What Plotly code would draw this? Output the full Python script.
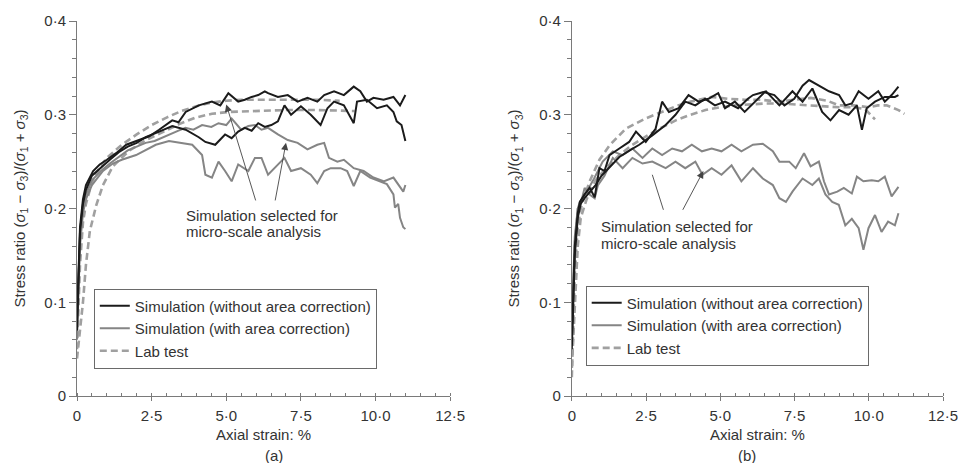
import plotly.graph_objects as go
from plotly.subplots import make_subplots

# ---------------- Panel (a) ----------------
a_black1_x = [0, 0.05, 0.1, 0.2, 0.3, 0.54, 0.76, 1.0, 1.31, 1.65, 2.09, 2.42, 2.75, 3.0, 3.19, 3.4, 3.64,
              4.08, 4.52, 4.8, 5.07, 5.4, 5.62, 5.85, 6.07, 6.29, 6.4, 6.73, 7.06, 7.39, 7.72, 8.05, 8.28,
              8.61, 8.94, 9.27, 9.49, 9.71, 9.93, 10.27, 10.6, 10.82, 11.0]
a_black1_y = [0.08, 0.14, 0.18, 0.21, 0.225, 0.24, 0.247, 0.252, 0.259, 0.268, 0.273, 0.277, 0.284, 0.29,
              0.294, 0.292, 0.303, 0.31, 0.314, 0.31, 0.323, 0.314, 0.316, 0.319, 0.321, 0.325, 0.323,
              0.319, 0.321, 0.314, 0.318, 0.314, 0.321, 0.325, 0.321, 0.33, 0.325, 0.314, 0.318, 0.316,
              0.319, 0.31, 0.321]

a_black2_x = [0, 0.05, 0.1, 0.2, 0.3, 0.5, 0.8, 1.1, 1.4, 1.7, 2.0, 2.3, 2.75, 3.19, 3.64, 3.86, 4.08,
              4.3, 4.63, 4.96, 5.18, 5.4, 5.62, 5.85, 6.07, 6.29, 6.51, 6.73, 6.95, 7.17, 7.5, 7.83, 8.16,
              8.39, 8.61, 8.94, 9.27, 9.38, 9.71, 10.05, 10.38, 10.6, 10.71, 10.87, 11.0]
a_black2_y = [0.07, 0.13, 0.175, 0.205, 0.22, 0.235, 0.244, 0.252, 0.26, 0.266, 0.27, 0.276, 0.282, 0.288,
              0.284, 0.28, 0.276, 0.271, 0.268, 0.279, 0.275, 0.282, 0.286, 0.283, 0.291, 0.287, 0.289,
              0.293, 0.31, 0.3, 0.309, 0.3, 0.289, 0.307, 0.314, 0.31, 0.291, 0.314, 0.316, 0.307, 0.31,
              0.303, 0.293, 0.289, 0.272]

a_gray1_x = [0, 0.05, 0.1, 0.2, 0.3, 0.5, 0.8, 1.1, 1.4, 1.7, 2.0, 2.3, 2.6, 3.08, 3.4, 3.63, 3.9, 4.19,
             4.5, 4.74, 5.0, 5.18, 5.5, 5.74, 5.96, 6.18, 6.4, 6.73, 7.06, 7.39, 7.72, 8.05, 8.28, 8.44,
             8.72, 8.94, 9.27, 9.6, 9.93, 10.27, 10.6, 10.93, 11.0]
a_gray1_y = [0.09, 0.14, 0.17, 0.2, 0.215, 0.23, 0.24, 0.248, 0.255, 0.262, 0.266, 0.27, 0.272, 0.279,
             0.283, 0.286, 0.284, 0.289, 0.287, 0.291, 0.289, 0.296, 0.284, 0.288, 0.289, 0.284, 0.286,
             0.279, 0.273, 0.27, 0.263, 0.268, 0.27, 0.254, 0.25, 0.252, 0.243, 0.24, 0.233, 0.229,
             0.233, 0.218, 0.225]

a_gray2_x = [0, 0.05, 0.1, 0.2, 0.3, 0.5, 0.87, 1.2, 1.5, 1.98, 2.3, 2.64, 3.08, 3.42, 3.86, 4.19, 4.3,
             4.52, 4.74, 4.96, 5.18, 5.4, 5.74, 5.96, 6.18, 6.4, 6.73, 6.95, 7.17, 7.5, 7.83, 8.05, 8.28,
             8.5, 8.83, 9.05, 9.27, 9.49, 9.82, 10.16, 10.38, 10.6, 10.65, 10.76, 10.82, 10.93, 11.0]
a_gray2_y = [0.06, 0.12, 0.16, 0.195, 0.21, 0.225, 0.24, 0.248, 0.252, 0.257, 0.262, 0.268, 0.272, 0.27,
             0.268, 0.257, 0.236, 0.233, 0.25, 0.24, 0.229, 0.247, 0.24, 0.254, 0.254, 0.236, 0.247,
             0.254, 0.24, 0.243, 0.236, 0.227, 0.24, 0.243, 0.243, 0.24, 0.224, 0.24, 0.233, 0.229,
             0.226, 0.215, 0.201, 0.205, 0.19, 0.18, 0.178]

a_lab1_x = [0, 0.05, 0.1, 0.2, 0.3, 0.5, 0.75, 1.0, 1.5, 2.0, 2.5, 3.0, 3.5, 4.0, 4.5, 5.0, 5.5, 6.0,
            7.0, 8.0, 8.8]
a_lab1_y = [0.05, 0.1, 0.14, 0.185, 0.205, 0.228, 0.243, 0.254, 0.268, 0.279, 0.289, 0.297, 0.304,
            0.309, 0.313, 0.315, 0.316, 0.316, 0.316, 0.316, 0.315]

a_lab2_x = [0, 0.1, 0.2, 0.3, 0.43, 0.65, 0.87, 1.2, 1.76, 2.31, 2.86, 3.42, 3.97, 4.52, 5.07, 6.0,
            7.0, 8.0, 9.0, 9.3]
a_lab2_y = [0.04, 0.07, 0.1, 0.14, 0.176, 0.204, 0.225, 0.245, 0.262, 0.273, 0.281, 0.29, 0.297,
            0.301, 0.303, 0.304, 0.305, 0.305, 0.304, 0.304]

# ---------------- Panel (b) ----------------
b_black1_x = [0, 0.05, 0.1, 0.2, 0.27, 0.43, 0.6, 0.77, 0.93, 1.1, 1.27, 1.6, 1.93, 2.16, 2.49, 2.82,
              3.04, 3.27, 3.6, 3.93, 4.27, 4.6, 4.93, 5.16, 5.49, 5.82, 6.16, 6.49, 6.82, 7.16, 7.49,
              7.77, 7.99, 8.32, 8.66, 9.0, 9.21, 9.43, 9.66, 9.99, 10.32, 10.54, 10.77, 11.0]
b_black1_y = [0.06, 0.12, 0.16, 0.195, 0.207, 0.215, 0.222, 0.212, 0.243, 0.24, 0.257, 0.264, 0.271,
              0.282, 0.271, 0.285, 0.314, 0.303, 0.307, 0.321, 0.314, 0.317, 0.323, 0.307, 0.314,
              0.303, 0.314, 0.324, 0.321, 0.31, 0.317, 0.331, 0.337, 0.331, 0.325, 0.321, 0.31,
              0.312, 0.325, 0.317, 0.325, 0.314, 0.321, 0.33]

b_black2_x = [0, 0.05, 0.1, 0.2, 0.3, 0.45, 0.6, 0.8, 1.0, 1.3, 1.6, 1.95, 2.27, 2.71, 3.16, 3.49,
              3.82, 4.16, 4.49, 4.82, 5.16, 5.6, 5.93, 6.1, 6.54, 6.99, 7.43, 7.77, 8.1, 8.43, 8.71,
              9.0, 9.32, 9.6, 9.77, 9.93, 10.21, 10.54, 10.88, 11.0]
b_black2_y = [0.05, 0.11, 0.15, 0.19, 0.205, 0.212, 0.218, 0.225, 0.235, 0.245, 0.255, 0.262, 0.268,
              0.278, 0.289, 0.3, 0.314, 0.31, 0.317, 0.31, 0.314, 0.307, 0.317, 0.321, 0.325, 0.31,
              0.325, 0.314, 0.328, 0.303, 0.294, 0.305, 0.3, 0.31, 0.284, 0.307, 0.314, 0.319,
              0.319, 0.321]

b_gray1_x = [0, 0.05, 0.1, 0.2, 0.27, 0.5, 0.75, 1.04, 1.38, 1.71, 2.04, 2.38, 2.71, 3.04, 3.38,
             3.71, 4.04, 4.38, 4.71, 5.04, 5.38, 5.71, 6.1, 6.43, 6.77, 6.99, 7.32, 7.54, 7.82, 8.04,
             8.32, 8.49, 8.66, 8.94, 9.16, 9.43, 9.6, 9.82, 10.1, 10.32, 10.54, 10.77, 11.0]
b_gray1_y = [0.08, 0.13, 0.17, 0.2, 0.207, 0.218, 0.232, 0.25, 0.261, 0.257, 0.264, 0.254, 0.264,
             0.257, 0.264, 0.261, 0.268, 0.261, 0.264, 0.261, 0.268, 0.261, 0.268, 0.269, 0.261,
             0.25, 0.25, 0.243, 0.259, 0.245, 0.25, 0.229, 0.215, 0.218, 0.222, 0.216, 0.234, 0.229,
             0.23, 0.229, 0.234, 0.213, 0.223]

b_gray2_x = [0, 0.05, 0.1, 0.2, 0.3, 0.43, 0.6, 0.77, 0.88, 1.1, 1.38, 1.71, 2.04, 2.38, 2.71, 3.16,
             3.49, 3.82, 4.16, 4.4, 4.71, 5.04, 5.38, 5.71, 6.1, 6.43, 6.77, 6.99, 7.21, 7.43, 7.77,
             8.1, 8.32, 8.54, 8.77, 8.99, 9.21, 9.43, 9.66, 9.82, 9.99, 10.21, 10.43, 10.65, 10.88, 11.0]
b_gray2_y = [0.07, 0.12, 0.165, 0.2, 0.205, 0.222, 0.215, 0.211, 0.225, 0.235, 0.254, 0.243, 0.254,
             0.248, 0.25, 0.243, 0.25, 0.243, 0.25, 0.236, 0.243, 0.236, 0.246, 0.229, 0.243, 0.232,
             0.225, 0.211, 0.207, 0.218, 0.232, 0.225, 0.232, 0.215, 0.207, 0.204, 0.182, 0.189,
             0.179, 0.156, 0.179, 0.193, 0.175, 0.186, 0.182, 0.195]

b_lab1_x = [0, 0.05, 0.1, 0.2, 0.3, 0.45, 0.6, 0.93, 1.26, 1.81, 2.48, 3.03, 3.58, 4.0, 4.71, 5.27,
            5.82, 6.38, 6.93, 7.49, 8.04, 8.6, 9.0, 9.5, 10.0, 10.3, 10.6, 11.0, 11.2]
b_lab1_y = [0.02, 0.08, 0.13, 0.18, 0.2, 0.215, 0.229, 0.252, 0.267, 0.285, 0.296, 0.303, 0.31,
            0.314, 0.319, 0.317, 0.316, 0.316, 0.314, 0.316, 0.318, 0.315, 0.31, 0.31, 0.308, 0.31,
            0.31, 0.305, 0.301]

b_lab2_x = [0, 0.1, 0.2, 0.3, 0.5, 0.8, 1.2, 1.6, 2.0, 2.5, 3.0, 3.5, 4.0, 4.5, 5.0, 5.5, 6.0, 6.5,
            7.0, 7.5, 8.0, 8.5, 9.0, 9.5, 9.88, 10.21]
b_lab2_y = [0.03, 0.1, 0.16, 0.19, 0.21, 0.23, 0.245, 0.257, 0.267, 0.277, 0.286, 0.294, 0.3, 0.305,
            0.308, 0.31, 0.311, 0.312, 0.312, 0.311, 0.31, 0.309, 0.308, 0.308, 0.306, 0.295]

# ---------------- Axis ticks ----------------
x_ticks = [0, 2.5, 5.0, 7.5, 10.0, 12.5]
x_tick_text = ["0", "2·5", "5·0", "7·5", "10·0", "12·5"]
y_ticks = [0, 0.1, 0.2, 0.3, 0.4]
y_tick_text = ["0", "0·1", "0·2", "0·3", "0·4"]

legend_names = ["Simulation (without area correction)", "Simulation (with area correction)", "Lab test"]

FONT = "Arial, Liberation Sans, sans-serif"
FS = 15
TEXT = "#333333"
AXIS = "#7a7a7a"
BLACK = "#1b1b1b"
GRAY = "#858585"
LAB = "#a0a0a0"

fig = make_subplots(rows=1, cols=2, horizontal_spacing=0.1)


def add_panel(col, legend_id, labs, grays, blacks):
    for i, (x, y) in enumerate(labs):
        fig.add_trace(go.Scatter(x=x, y=y, mode="lines", name=legend_names[2], legend=legend_id,
                                 legendgroup=legend_id + "lab", showlegend=(i == 0), legendrank=3,
                                 line=dict(color=LAB, width=2.6, dash="7px,4px")), row=1, col=col)
    for i, (x, y) in enumerate(grays):
        fig.add_trace(go.Scatter(x=x, y=y, mode="lines", name=legend_names[1], legend=legend_id,
                                 legendgroup=legend_id + "gray", showlegend=(i == 0), legendrank=2,
                                 line=dict(color=GRAY, width=2)), row=1, col=col)
    for i, (x, y) in enumerate(blacks):
        fig.add_trace(go.Scatter(x=x, y=y, mode="lines", name=legend_names[0], legend=legend_id,
                                 legendgroup=legend_id + "black", showlegend=(i == 0), legendrank=1,
                                 line=dict(color=BLACK, width=2)), row=1, col=col)


add_panel(1, "legend",
          [(a_lab1_x, a_lab1_y), (a_lab2_x, a_lab2_y)],
          [(a_gray1_x, a_gray1_y), (a_gray2_x, a_gray2_y)],
          [(a_black1_x, a_black1_y), (a_black2_x, a_black2_y)])
add_panel(2, "legend2",
          [(b_lab1_x, b_lab1_y), (b_lab2_x, b_lab2_y)],
          [(b_gray1_x, b_gray1_y), (b_gray2_x, b_gray2_y)],
          [(b_black1_x, b_black1_y), (b_black2_x, b_black2_y)])

y_title = ("Stress ratio (<i>σ</i><sub>1</sub> − <i>σ</i><sub>3</sub>)/"
           "(<i>σ</i><sub>1</sub> + <i>σ</i><sub>3</sub>)")

text_font = dict(size=FS, color=TEXT, family=FONT)

xaxis_style = dict(range=[0, 12.5], tickvals=x_ticks, ticktext=x_tick_text, showline=True,
                   linecolor=AXIS, linewidth=1, ticks="outside", ticklen=4, tickcolor=AXIS,
                   ticklabelstandoff=2,
                   showgrid=False, zeroline=False, tickfont=text_font,
                   minor=dict(tickmode="linear", tick0=0, dtick=0.5, ticks="inside", ticklen=3,
                              tickcolor=AXIS),
                   title=dict(text="Axial strain: %", font=text_font, standoff=6))
yaxis_style = dict(range=[0, 0.4], tickvals=y_ticks, ticktext=y_tick_text, showline=True,
                   linecolor=AXIS, linewidth=1, ticks="outside", ticklen=7, tickcolor=AXIS,
                   showgrid=False, zeroline=False, tickfont=text_font,
                   minor=dict(tickmode="linear", tick0=0, dtick=0.02, ticks="outside", ticklen=4,
                              tickcolor=AXIS),
                   title=dict(text=y_title, font=text_font, standoff=15))

fig.update_xaxes(**xaxis_style)
fig.update_yaxes(**yaxis_style)
fig.update_layout(xaxis=dict(domain=[0, 0.4309]), xaxis2=dict(domain=[0.5714, 1.0]))

legend_style = dict(bgcolor="white", bordercolor="#6a6a6a", borderwidth=1,
                    font=text_font, xanchor="left", yanchor="top",
                    traceorder="normal", itemwidth=30)
fig.update_layout(
    legend=dict(x=0.0194, y=0.2865, **legend_style),
    legend2=dict(x=0.5874, y=0.2944, **legend_style),
)

# Callouts pointing at the simulations chosen for micro-scale analysis
note_lines = ["Simulation selected for", "micro-scale analysis"]
annotations = [
    dict(x=3.58, y=0.193, xref="x", yref="y", text=note_lines[0], showarrow=False,
         xanchor="left", yanchor="middle", font=text_font),
    dict(x=3.58, y=0.175, xref="x", yref="y", text=note_lines[1], showarrow=False,
         xanchor="left", yanchor="middle", font=text_font),
    dict(x=0.93, y=0.181, xref="x2", yref="y2", text=note_lines[0], showarrow=False,
         xanchor="left", yanchor="middle", font=text_font),
    dict(x=0.93, y=0.163, xref="x2", yref="y2", text=note_lines[1], showarrow=False,
         xanchor="left", yanchor="middle", font=text_font),
    dict(x=5.0, y=0.311, ax=6.0, ay=0.207, xref="x", yref="y", axref="x", ayref="y", text="",
         showarrow=True, arrowhead=2, arrowsize=1.6, arrowwidth=0.9, arrowcolor="#444"),
    dict(x=7.0, y=0.27, ax=6.63, ay=0.207, xref="x", yref="y", axref="x", ayref="y", text="",
         showarrow=True, arrowhead=2, arrowsize=1.6, arrowwidth=0.9, arrowcolor="#444"),
    dict(x=2.71, y=0.236, ax=3.1, ay=0.197, xref="x2", yref="y2", axref="x2", ayref="y2", text="",
         showarrow=True, arrowhead=0, arrowwidth=0.9, arrowcolor="#444"),
    dict(x=4.43, y=0.24, ax=3.71, ay=0.197, xref="x2", yref="y2", axref="x2", ayref="y2", text="",
         showarrow=True, arrowhead=2, arrowsize=1.6, arrowwidth=0.9, arrowcolor="#444"),
    # panel captions below each x-axis title
    dict(x=0.2154, y=-0.1565, xref="paper", yref="paper", text="(a)", showarrow=False,
         yanchor="middle", height=16, borderpad=0, font=text_font),
    dict(x=0.7857, y=-0.1565, xref="paper", yref="paper", text="(b)", showarrow=False,
         yanchor="middle", height=16, borderpad=0, font=text_font),
]
fig.update_layout(annotations=annotations)

fig.update_layout(width=970, height=464, margin=dict(l=77, r=18, t=19, b=68),
                  plot_bgcolor="white", paper_bgcolor="white",
                  font=dict(family=FONT, color=TEXT))

fig.write_html("out.html")
